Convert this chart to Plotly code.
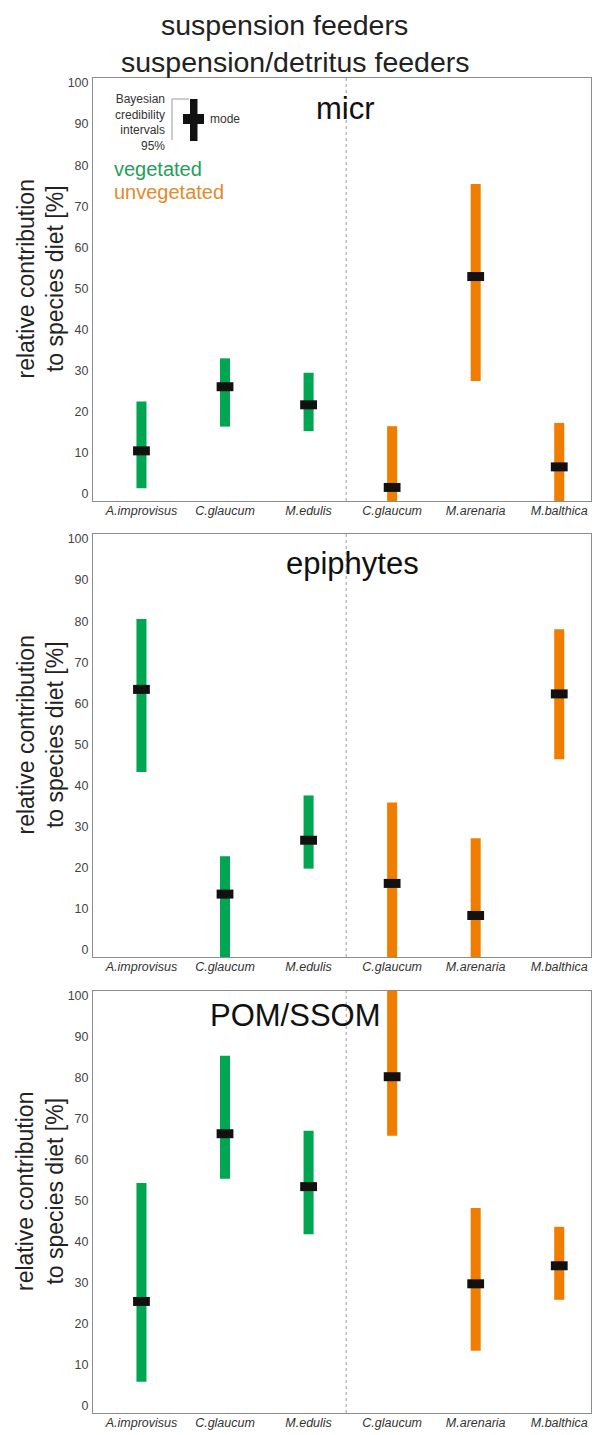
import plotly.graph_objects as go

W, H = 594, 1435

# ---------------- data ----------------
species = ["A.improvisus", "C.glaucum", "M.edulis", "C.glaucum", "M.arenaria", "M.balthica"]
habitat = ["vegetated", "vegetated", "vegetated", "unvegetated", "unvegetated", "unvegetated"]
tick_vals_y = [0, 10, 20, 30, 40, 50, 60, 70, 80, 90, 100]

panel_names = ["micr", "epiphytes", "POM/SSOM"]

micr_low = [1.4, 16.4, 15.3, -2, 27.5, -2]
micr_high = [22.5, 33.0, 29.5, 16.5, 75.4, 17.3]
micr_mode = [10.5, 26.1, 21.7, 1.6, 52.9, 6.6]

epi_low = [43.3, -2, 19.8, -2, -2, 46.4]
epi_high = [80.5, 22.8, 37.6, 35.9, 27.2, 78.0]
epi_mode = [63.4, 13.6, 26.7, 16.2, 8.4, 62.3]

pom_low = [5.9, 55.4, 41.9, 65.9, 13.5, 25.9]
pom_high = [54.4, 85.4, 67.1, 102, 48.3, 43.7]
pom_mode = [25.5, 66.4, 53.5, 80.3, 29.8, 34.2]

panels = [
    (micr_low, micr_high, micr_mode),
    (epi_low, epi_high, epi_mode),
    (pom_low, pom_high, pom_mode),
]

# ---------------- style ----------------
FONT = "Liberation Sans, Arial, Helvetica, sans-serif"
GREEN = "#00a651"
ORANGE = "#f07d00"
colors = {"vegetated": GREEN, "unvegetated": ORANGE}

def px(x):
    return x / W

def py(y):
    return 1 - y / H

# pixel extents of each panel (top, bottom)
panel_px = [(78, 501), (534, 957), (991, 1413)]
x_left, x_right = 93, 591

fig = go.Figure()
idx = list(range(len(species)))
shapes = []
annotations = []

for p, ((low, high, mode), (ptop, pbot)) in enumerate(zip(panels, panel_px)):
    xa = "x" if p == 0 else f"x{p+1}"
    ya = "y" if p == 0 else f"y{p+1}"
    bar_colors = [colors[h] for h in habitat]
    fig.add_trace(go.Bar(
        x=idx, y=[h - l for h, l in zip(high, low)], base=low,
        width=0.12, marker=dict(color=bar_colors, line=dict(width=0)),
        xaxis=xa, yaxis=ya, showlegend=False, hoverinfo="skip"))
    fig.add_trace(go.Scatter(
        x=idx, y=mode, mode="markers",
        marker=dict(symbol="line-ew", size=12, color="#111111",
                    line=dict(width=9, color="#111111")),
        xaxis=xa, yaxis=ya, showlegend=False, hoverinfo="skip"))

    axis_common = dict(showline=True, mirror=True, linecolor="#8c8c8c", linewidth=1,
                       showgrid=False, zeroline=False, ticks="", automargin=False)
    fig.layout[("xaxis" if p == 0 else f"xaxis{p+1}")] = dict(
        domain=[px(x_left), px(x_right)], range=[-0.58, 5.38],
        tickvals=idx, ticktext=[f"<i>{s}</i>" for s in species],
        tickfont=dict(family=FONT, size=12.5, color="#333333"),
        ticklabelstandoff=-2,
        anchor=ya, **axis_common)
    fig.layout[("yaxis" if p == 0 else f"yaxis{p+1}")] = dict(
        domain=[py(pbot), py(ptop)], range=[-1.7, 101.2],
        tickvals=tick_vals_y, tickfont=dict(family=FONT, size=12.5, color="#444444"),
        ticklabelstandoff=1,
        anchor=xa, **axis_common)

    # dotted divider between vegetated and unvegetated
    shapes.append(dict(type="line", xref=xa, yref="paper", x0=2.45, x1=2.45,
                       y0=py(pbot), y1=py(ptop),
                       line=dict(color="#9a9a9a", width=1, dash="dot")))

    # y-axis title
    annotations.append(dict(text="relative contribution<br>to species diet [%]",
                            xref="paper", yref="paper", x=px(40), y=py((ptop + pbot) / 2 - 10),
                            textangle=-90, showarrow=False, xanchor="center", yanchor="middle",
                            font=dict(family=FONT, size=23, color="#222222")))

# panel titles
title_pos = [(345, 108), (352, 563), (295, 1015)]
for name, (tx, ty) in zip(panel_names, title_pos):
    annotations.append(dict(text=name, xref="paper", yref="paper", x=px(tx), y=py(ty),
                            showarrow=False, xanchor="center", yanchor="middle",
                            font=dict(family=FONT, size=31, color="#111111")))

# main title (two lines)
annotations.append(dict(text="suspension feeders", xref="paper", yref="paper",
                        x=px(284), y=py(25), showarrow=False, xanchor="center", yanchor="middle",
                        font=dict(family=FONT, size=28.5, color="#222222")))
annotations.append(dict(text="suspension/detritus feeders", xref="paper", yref="paper",
                        x=px(295), y=py(62), showarrow=False, xanchor="center", yanchor="middle",
                        font=dict(family=FONT, size=28.5, color="#222222")))

# legend key
annotations.append(dict(text="Bayesian<br>credibility<br>intervals<br>95%", xref="paper", yref="paper",
                        x=px(167), y=py(122), showarrow=False, xanchor="right", yanchor="middle",
                        align="right", font=dict(family=FONT, size=12, color="#333333")))
annotations.append(dict(text="mode", xref="paper", yref="paper",
                        x=px(208), y=py(119), showarrow=False, xanchor="left", yanchor="middle",
                        font=dict(family=FONT, size=12, color="#333333")))
annotations.append(dict(text="vegetated", xref="paper", yref="paper",
                        x=px(112), y=py(169), showarrow=False, xanchor="left", yanchor="middle",
                        font=dict(family=FONT, size=20, color="#1f9e5c")))
annotations.append(dict(text="unvegetated", xref="paper", yref="paper",
                        x=px(112), y=py(192), showarrow=False, xanchor="left", yanchor="middle",
                        font=dict(family=FONT, size=20, color="#e48a2a")))

# bracket and cross glyph of the key
shapes.append(dict(type="line", xref="paper", yref="paper", x0=px(172), x1=px(172),
                   y0=py(99), y1=py(140), line=dict(color="#999999", width=1)))
shapes.append(dict(type="line", xref="paper", yref="paper", x0=px(172), x1=px(189),
                   y0=py(99), y1=py(99), line=dict(color="#999999", width=1)))
shapes.append(dict(type="rect", xref="paper", yref="paper", x0=px(190), x1=px(197.5),
                   y0=py(141), y1=py(99), fillcolor="#111111", line=dict(width=0)))
shapes.append(dict(type="rect", xref="paper", yref="paper", x0=px(183), x1=px(204),
                   y0=py(124), y1=py(114), fillcolor="#111111", line=dict(width=0)))

fig.update_layout(
    template="none",
    width=W, height=H, autosize=False,
    margin=dict(l=0, r=0, t=0, b=0, pad=0),
    paper_bgcolor="white", plot_bgcolor="white",
    barmode="overlay", shapes=shapes, annotations=annotations,
    font=dict(family=FONT), hovermode=False,
)

# remove the browser's default 8px body margin so the figure fills the window exactly
fig.write_html("out.html", config={"displayModeBar": False, "staticPlot": True},
               post_script="document.body.style.margin='0px';document.body.style.overflow='hidden';")
